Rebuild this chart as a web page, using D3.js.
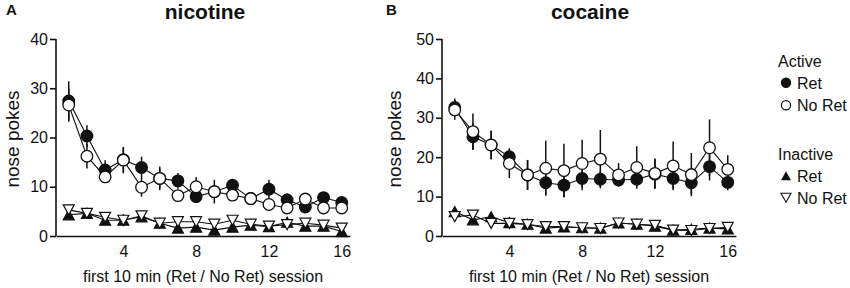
<!DOCTYPE html>
<html><head><meta charset="utf-8">
<script src="https://cdn.jsdelivr.net/npm/d3@7/dist/d3.min.js"></script>
<style>
body{margin:0;background:#fff;}
text{font-family:"Liberation Sans",Arial,sans-serif;fill:#111;}
</style></head>
<body><svg id="c" width="850" height="288"></svg>
<script>
const sessions = [1,2,3,4,5,6,7,8,9,10,11,12,13,14,15,16];
const xTicks = [4,8,12,16];
const nicYTicks = [0,10,20,30,40];
const cocYTicks = [0,10,20,30,40,50];

// Nicotine
const nicActRet      = [27.4,20.3,13.4,15.5,13.9,11.7,11.2,8.0,9.0,10.3,7.6,9.5,7.3,5.9,7.8,6.8];
const nicActRetErr   = [4.0,2.2,2.0,2.5,2.2,2.0,1.6,1.0,1.2,1.3,1.1,1.9,1.4,1.0,1.0,0.8];
const nicActNoRet    = [26.6,16.2,12.0,15.4,9.9,11.7,8.2,10.0,9.0,8.3,7.6,6.4,5.7,7.5,5.7,5.7];
const nicActNoRetErr = [3.4,2.5,0.8,2.7,1.9,2.4,1.0,2.0,2.4,1.0,1.3,1.0,0.8,0.8,0.8,0.8];
const nicInRet       = [4.3,4.6,3.2,3.2,3.9,2.6,1.6,1.8,1.2,1.8,2.2,1.9,2.8,2.0,2.0,0.9];
const nicInRetErr    = [0.8,0.6,0.6,0.6,0.6,0.5,0.5,0.5,0.5,0.5,0.5,0.5,1.0,0.5,0.5,0.5];
const nicInNoRet     = [5.3,4.6,3.8,3.2,4.1,2.6,2.9,2.9,2.4,3.2,2.4,2.0,2.3,2.6,2.2,1.6];
const nicInNoRetErr  = [0.8,0.6,0.6,1.2,0.8,0.5,0.5,0.5,0.5,0.5,0.5,0.5,0.5,0.5,0.5,0.5];

// Cocaine
const cocActRet      = [32.6,25.2,23.1,20.1,15.5,13.5,12.9,14.6,14.4,14.2,14.4,15.7,14.6,13.5,17.6,13.6];
const cocActRetErr   = [2.3,3.4,3.6,2.2,3.8,3.1,3.0,3.0,2.0,1.5,2.0,3.8,2.5,3.0,3.5,2.0];
const cocActNoRet    = [32.0,26.5,23.1,18.4,15.5,17.2,16.6,18.4,19.5,15.5,17.4,15.9,17.8,15.6,22.4,16.9];
const cocActNoRetErr = [2.5,4.6,3.6,3.7,3.8,7.0,6.8,6.0,7.4,3.0,5.4,3.8,6.2,5.5,7.2,3.6];
const cocInRet       = [6.2,4.1,4.9,3.4,3.0,2.0,2.3,2.1,2.0,3.3,3.0,2.5,1.5,1.7,2.0,1.8];
const cocInRetErr    = [1.0,0.8,0.8,0.6,0.8,0.6,0.6,0.5,0.5,0.6,0.6,0.6,0.5,0.5,0.5,0.5];
const cocInNoRet     = [4.9,5.3,3.2,3.2,2.9,2.4,2.4,2.1,1.9,3.3,3.0,2.7,1.5,1.4,1.9,2.2];
const cocInNoRetErr  = [0.8,0.8,0.6,0.6,0.6,0.5,0.5,0.5,0.5,0.6,0.6,0.6,0.5,0.5,0.5,0.5];

const svg = d3.select("#c");

const triUp = "M0,-5L5.5,5L-5.5,5Z";
const triDown = "M0,5L5.5,-5L-5.5,-5Z";

function panel(opt){
  const x = d3.scaleLinear().domain([0.3,16.45]).range([opt.x0, opt.x0 + 16.15*18.2]);
  const y = d3.scaleLinear().domain([0, opt.ymax]).range([236, 39]);
  const g = svg.append("g");

  // axes
  const ya = g.append("g").attr("transform", `translate(${opt.x0},0)`)
    .call(d3.axisLeft(y).tickValues(opt.yTicks).tickSize(6).tickPadding(2).tickSizeOuter(0));
  const xa = g.append("g").attr("transform", `translate(0,236)`)
    .call(d3.axisBottom(x).tickValues(xTicks).tickSize(0).tickPadding(10).tickSizeOuter(0));
  [ya, xa].forEach(a=>{
    a.select(".domain").attr("stroke","#111").attr("stroke-width",1.6);
    a.selectAll(".tick line").attr("stroke","#111").attr("stroke-width",1.6);
    a.selectAll(".tick text").attr("font-size",16).attr("fill","#111")
      .style("font-family",'"Liberation Sans",Arial,sans-serif');
  });
  ya.select(".domain").attr("d", `M0,${y(0)}V${y(opt.ymax)}`);

  const series = [
    {v:opt.ar, e:opt.are, type:"circle", fill:"#111"},
    {v:opt.an, e:opt.ane, type:"circle", fill:"#fff"},
    {v:opt.ir, e:opt.ire, type:"up", fill:"#111"},
    {v:opt.inr, e:opt.ine, type:"down", fill:"#fff"}
  ];
  const line = d3.line().x((d,i)=>x(sessions[i])).y(d=>y(d));
  series.forEach(s=>{
    g.append("path").attr("d", line(s.v)).attr("fill","none").attr("stroke","#111").attr("stroke-width",1.1);
  });
  series.forEach(s=>{
    g.append("g").selectAll("line").data(s.v).join("line")
      .attr("x1",(d,i)=>x(sessions[i])).attr("x2",(d,i)=>x(sessions[i]))
      .attr("y1",(d,i)=>y(d - s.e[i])).attr("y2",(d,i)=>y(d + s.e[i]))
      .attr("stroke","#111").attr("stroke-width",1.5);
  });
  series.forEach(s=>{
    const mg = g.append("g");
    if (s.type==="circle"){
      mg.selectAll("circle").data(s.v).join("circle")
        .attr("cx",(d,i)=>x(sessions[i])).attr("cy",d=>y(d)).attr("r",5.8)
        .attr("fill",s.fill).attr("stroke","#111").attr("stroke-width",1.3);
    } else {
      mg.selectAll("path").data(s.v).join("path")
        .attr("transform",(d,i)=>`translate(${x(sessions[i])},${y(d)})`)
        .attr("d", s.type==="up"?triUp:triDown)
        .attr("fill",s.fill).attr("stroke","#111").attr("stroke-width",1.2).attr("stroke-linejoin","miter");
    }
  });

  // labels
  svg.append("text").attr("x",opt.letterX).attr("y",15).attr("font-size",15).attr("font-weight","bold").text(opt.letter);
  svg.append("text").attr("x",opt.titleX).attr("y",19).attr("text-anchor","middle").attr("font-size",21).attr("font-weight","bold").text(opt.title);
  svg.append("text").attr("transform",`translate(${opt.ylabX},139) rotate(-90)`).attr("text-anchor","middle").attr("font-size",19).text("nose pokes");
  svg.append("text").attr("x",opt.xlabX).attr("y",282).attr("text-anchor","middle").attr("font-size",16).text("first 10 min (Ret / No Ret) session");
}

panel({x0:56, ymax:40, yTicks:nicYTicks, ar:nicActRet, are:nicActRetErr, an:nicActNoRet, ane:nicActNoRetErr,
  ir:nicInRet, ire:nicInRetErr, inr:nicInNoRet, ine:nicInNoRetErr,
  letter:"A", letterX:6, title:"nicotine", titleX:205, ylabX:19, xlabX:203});
panel({x0:442, ymax:50, yTicks:cocYTicks, ar:cocActRet, are:cocActRetErr, an:cocActNoRet, ane:cocActNoRetErr,
  ir:cocInRet, ire:cocInRetErr, inr:cocInNoRet, ine:cocInNoRetErr,
  letter:"B", letterX:386, title:"cocaine", titleX:590, ylabX:401, xlabX:589});

// legend
const leg = svg.append("g");
const legRows = [
  {t:"Active", y:66.5, m:null},
  {t:"Ret", y:88.5, m:"fc"},
  {t:"No Ret", y:111, m:"oc"},
  {t:"Inactive", y:159.5, m:null},
  {t:"Ret", y:181.5, m:"ft"},
  {t:"No Ret", y:203.5, m:"ot"}
];
legRows.forEach(r=>{
  leg.append("text").attr("x", r.m? 797 : 778).attr("y", r.y).attr("font-size",16).text(r.t);
  const cy = r.y - 5.8;
  if (r.m==="fc" || r.m==="oc"){
    leg.append("circle").attr("cx",786).attr("cy",cy).attr("r",4.6)
      .attr("fill", r.m==="fc"?"#111":"#fff").attr("stroke","#111").attr("stroke-width",1.2);
  } else if (r.m==="ft"){
    leg.append("path").attr("transform",`translate(786,${cy})`).attr("d","M0,-4.5L5,4.5L-5,4.5Z").attr("fill","#111");
  } else if (r.m==="ot"){
    leg.append("path").attr("transform",`translate(786,${cy})`).attr("d","M0,4.5L5,-4.5L-5,-4.5Z").attr("fill","#fff").attr("stroke","#111").attr("stroke-width",1.1);
  }
});
</script></body></html>
